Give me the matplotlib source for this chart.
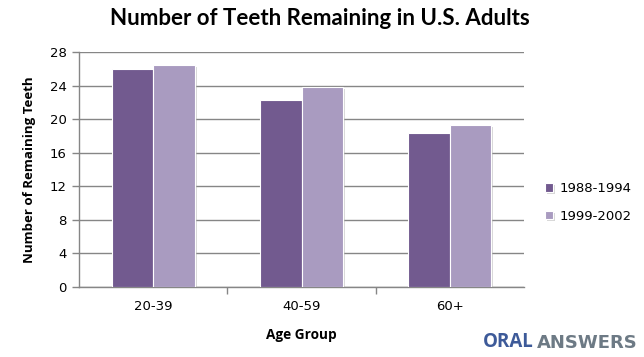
import numpy as np
import matplotlib.pyplot as plt
import matplotlib.patheffects as pe

groups = ["20-39", "40-59", "60+"]
s1988 = [26.0, 22.3, 18.35]
s1999 = [26.5, 23.85, 19.3]
yticks = [0, 4, 8, 12, 16, 20, 24, 28]

fig = plt.figure(figsize=(6.44, 3.57), dpi=100)
ax = fig.add_axes([0.1227, 0.196, 0.691, 0.658])

x = np.arange(len(groups))
w = 0.28
shadow = [pe.SimplePatchShadow(offset=(1.5, -1.5), shadow_rgbFace='#b0b0b0', alpha=0.5), pe.Normal()]
b1 = ax.bar(x - w/2, s1988, w, color='#725a8f', edgecolor='white', linewidth=0.8,
            label='1988-1994', zorder=3, path_effects=shadow)
b2 = ax.bar(x + w/2, s1999, w, color='#a99bc0', edgecolor='white', linewidth=0.8,
            label='1999-2002', zorder=3, path_effects=shadow)

ax.set_xlim(-0.5, 2.5)
ax.set_ylim(0, 28)
ax.set_yticks(yticks)
ax.set_xticks(x)
ax.set_xticklabels(groups, fontsize=9.5, family='DejaVu Sans')
ax.set_xticks([0.5, 1.5], minor=True)
ax.tick_params(axis='x', which='major', length=0, pad=9)
ax.tick_params(axis='x', which='minor', length=5, color='#868686', width=1)
ax.tick_params(axis='y', length=5, color='#868686', width=1, labelsize=9.5, pad=4)
ax.grid(axis='y', color='#868686', linewidth=1, zorder=0)
for side in ['top', 'right']:
    ax.spines[side].set_visible(False)
for side in ['left', 'bottom']:
    ax.spines[side].set_color('#868686')
    ax.spines[side].set_linewidth(1)

ax.set_ylabel('Number of Remaining Teeth', fontsize=9.5, fontweight='bold', family='Open Sans', labelpad=10)
ax.set_xlabel('Age Group', fontsize=9.8, fontweight='bold', family='Open Sans', labelpad=11)
fig.text(0.497, 0.948, 'Number of Teeth Remaining in U.S. Adults', ha='center', va='center',
         fontsize=16, fontweight='bold', family='Lato')

ax.legend(loc='center left', bbox_to_anchor=(1.02, 0.36), frameon=False, fontsize=9.5,
          handlelength=0.6, handleheight=0.6, handletextpad=0.5, labelspacing=1.1)

fig.text(483/644, 0.014, 'ORAL', color='#3d5a99', fontsize=13.5, fontweight='bold', family='Open Sans',
         ha='left', va='bottom')
fig.text(638/644, 0.014, 'ANSWERS', color='#6d7a85', fontsize=13, fontweight='bold', family='DejaVu Sans',
         ha='right', va='bottom')

fig.savefig('out.png', dpi=100)
